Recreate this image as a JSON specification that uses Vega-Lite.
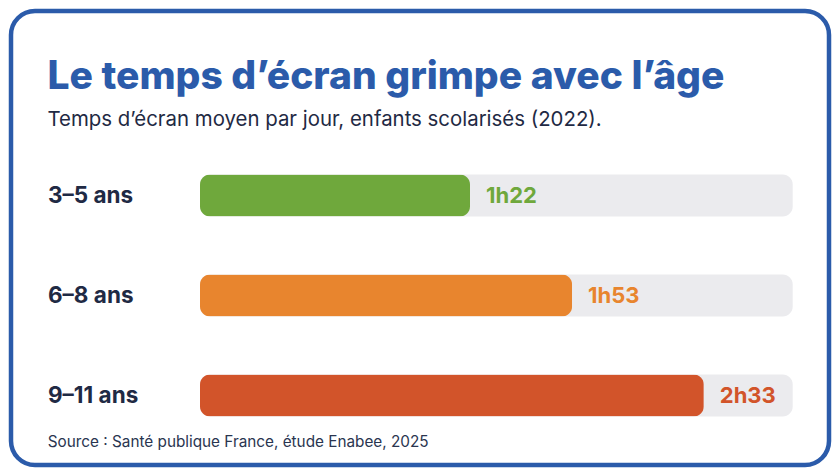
{
  "$schema": "https://vega.github.io/schema/vega-lite/v6.json",
  "width": 818,
  "height": 454,
  "autosize": {"type": "none"},
  "padding": {"left": 11, "top": 11, "right": 11, "bottom": 11},
  "background": "white",
  "config": {
    "view": {"stroke": "#2B5BAA", "strokeWidth": 4.5, "cornerRadius": 24, "fill": "white"},
    "font": "Inter"
  },
  "title": {
    "text": "Le temps d’écran grimpe avec l’âge",
    "subtitle": "Temps d’écran moyen par jour, enfants scolarisés (2022).",
    "anchor": "start",
    "frame": "group",
    "orient": "top",
    "offset": -119.5,
    "dx": 36.5,
    "font": "Inter",
    "fontSize": 39,
    "fontWeight": 800,
    "color": "#2B5BAA",
    "subtitleFont": "Inter",
    "subtitleFontSize": 20.4,
    "subtitleFontWeight": 400,
    "subtitleColor": "#1F2A44",
    "subtitlePadding": 13
  },
  "data": {
    "values": [
      {"age": "3–5 ans", "minutes": 82, "label": "1h22"},
      {"age": "6–8 ans", "minutes": 113, "label": "1h53"},
      {"age": "9–11 ans", "minutes": 153, "label": "2h33"}
    ]
  },
  "encoding": {
    "y": {
      "field": "age",
      "type": "nominal",
      "sort": null,
      "scale": {"range": [134.5, 434.5], "paddingInner": 0, "paddingOuter": 0},
      "axis": {
        "title": null,
        "domain": false,
        "ticks": false,
        "tickSize": 0,
        "grid": false,
        "labelPadding": -36.5,
        "labelAlign": "left",
        "labelBaseline": "middle",
        "labelFont": "Inter",
        "labelFontSize": 22.5,
        "labelFontWeight": 700,
        "labelColor": "#1F2A44"
      }
    }
  },
  "layer": [
    {
      "mark": {"type": "bar", "height": {"band": 0.42}, "cornerRadius": 10, "color": "#EBEBEE"},
      "encoding": {
        "x": {
          "datum": 180,
          "type": "quantitative",
          "scale": {"domain": [0, 180], "range": [189, 781.7], "zero": true, "nice": false},
          "axis": {
            "orient": "bottom",
            "title": "Source : Santé publique France, étude Enabee, 2025",
            "titleX": 36.3,
            "titleY": -19,
            "titleAlign": "left",
            "titleBaseline": "alphabetic",
            "titleFont": "Inter",
            "titleFontSize": 15.3,
            "titleFontWeight": 400,
            "titleColor": "#2A3550",
            "labels": false,
            "ticks": false,
            "domain": false,
            "grid": false
          }
        }
      }
    },
    {
      "mark": {"type": "bar", "height": {"band": 0.42}, "cornerRadius": 10},
      "encoding": {
        "x": {"field": "minutes", "type": "quantitative"},
        "color": {
          "field": "age",
          "type": "nominal",
          "scale": {"domain": ["3–5 ans", "6–8 ans", "9–11 ans"], "range": ["#6FA83C", "#E8852E", "#D2542A"]},
          "legend": null
        }
      }
    },
    {
      "mark": {"type": "text", "align": "left", "baseline": "middle", "dx": 16, "font": "Inter", "fontSize": 22, "fontWeight": 700},
      "encoding": {
        "x": {"field": "minutes", "type": "quantitative"},
        "text": {"field": "label"},
        "color": {"field": "age", "type": "nominal", "legend": null}
      }
    }
  ]
}
